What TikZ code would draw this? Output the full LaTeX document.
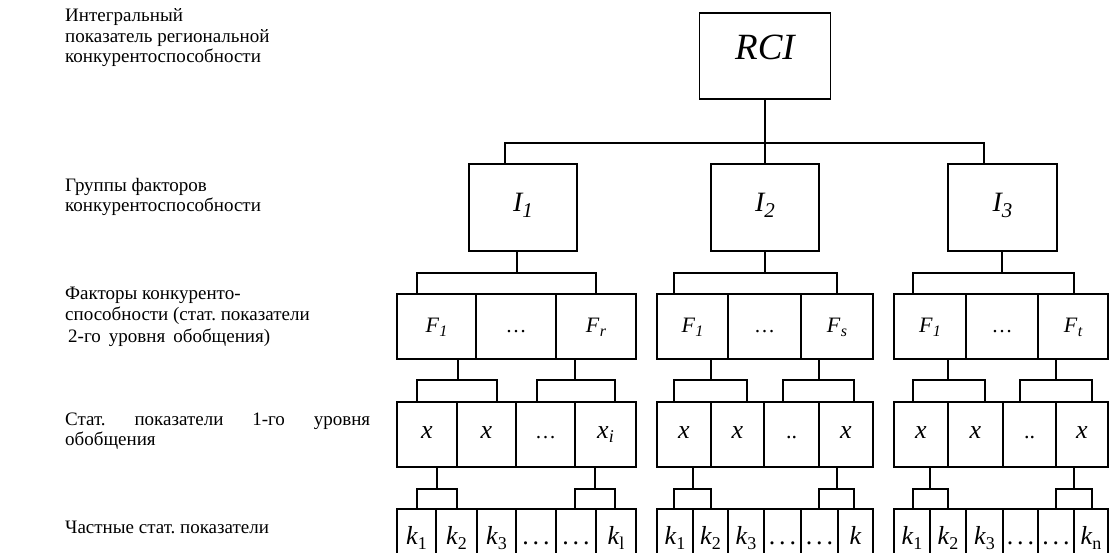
\documentclass[tikz,border=0pt]{standalone}
\usepackage{fontspec}
\setmainfont{Liberation Serif}
\frenchspacing
\newcommand\II[1]{\fontsize{28}{30}\selectfont\itshape I\raisebox{-6pt}{\fontsize{21}{21}\selectfont #1}}
\newcommand\FF[1]{\fontsize{22}{24}\selectfont\itshape F\kern0.5pt\raisebox{-4pt}{\fontsize{16}{16}\selectfont #1}}
\newcommand\XX[1]{\fontsize{26}{28}\selectfont\itshape x\raisebox{-4pt}{\fontsize{18}{18}\selectfont #1}}
\newcommand\KK[1]{\fontsize{26}{28}\selectfont\itshape k\raisebox{-5pt}{\fontsize{18}{18}\selectfont\upshape #1}}
\newcommand\dotsF{\fontsize{21}{22}\selectfont …}
\newcommand\dotsT{\fontsize{22}{22}\selectfont ..}
\newcommand\dotsK{\fontsize{26}{28}\selectfont .\kern4pt.\kern4pt.}
\newcommand\mybrk[8]{%
  \coordinate (#1t) at (#3,#8); \coordinate (#1l) at (#5,#8); \coordinate (#1r) at (#7,#8);
  \draw[conn] (#2.south -| #1t) -- (#1t);
  \draw[conn] (#4.north -| #1l) -- (#1l) -- (#1r) -- (#6.north -| #1r);}
\begin{document}
\begin{tikzpicture}[x=1pt,y=-1pt,
  box/.style={draw, line width=1.8pt, inner sep=0pt},
  fcell/.style={box, minimum height=65pt, text height=11pt, text depth=0pt},
  xcell/.style={box, minimum height=65pt, text height=7pt, text depth=0pt},
  kcell/.style={box, minimum height=51pt, text height=19pt, text depth=0pt},
  conn/.style={line width=1.5pt},
  lab/.style={anchor=base west, inner sep=0pt, font=\fontsize{19}{21}\selectfont}]
\useasboundingbox (0,0) rectangle (1109,552);

% left labels
\node[lab] (L1a) at (65,21) {Интегральный};
\node[lab] (L1b) at (65,42) {показатель региональной};
\node[lab] (L1c) at (65,62) {конкурентоспособности};
\node[lab] (L2a) at (65,191) {Группы факторов};
\node[lab] (L2b) at (65,211) {конкурентоспособности};
\node[lab] (L3a) at (65,299) {Факторы конкуренто-};
\node[lab] (L3b) at (65,320) {способности (стат. показатели};
\node[lab] (L3c) at (68,342) {\makebox[202pt][s]{2-го уровня обобщения)}};
\node[lab] (L4a) at (65,425) {\makebox[305pt][s]{Стат. показатели 1-го уровня}};
\node[lab] (L4b) at (65,445) {обобщения};
\node[lab] (L5a) at (65,533) {Частные стат. показатели};

% top levels
\node[box, minimum width=131pt, minimum height=86pt, text height=6pt, text depth=0pt] (RCI) at (765,56) {\fontsize{37}{40}\selectfont\itshape RCI};
\node[box, minimum width=108pt, minimum height=87pt, text height=7pt, text depth=0pt] (I1) at (523,207.5) {\II{1}};
\node[box, minimum width=108pt, minimum height=87pt, text height=7pt, text depth=0pt] (I2) at (765,207.5) {\II{2}};
\node[box, minimum width=109pt, minimum height=87pt, text height=7pt, text depth=0pt] (I3) at (1002.5,207.5) {\II{3}};

% F row
\foreach \a/\b/\t/\nm in {397/476/{\FF{1}}/f11, 476/556/{\dotsF}/f12, 556/636/{\FF{r}}/f13,
  657/728/{\FF{1}}/f21, 728/801/{\dotsF}/f22, 801/873/{\FF{s}}/f23,
  894/966/{\FF{1}}/f31, 966/1038/{\dotsF}/f32, 1038/1108/{\FF{t}}/f33}
{\pgfmathsetmacro\w{\b-\a}\pgfmathsetmacro\c{(\a+\b)/2}
 \node[fcell, minimum width=\w pt] (\nm) at (\c,326.5) {\t};}

% x row
\foreach \a/\b/\t/\nm in {397/457/{\XX{}}/x11, 457/516/{\XX{}}/x12, 516/575/{\dotsF}/x13, 575/636/{\XX{i}}/x14,
  657/711/{\XX{}}/x21, 711/764/{\XX{}}/x22, 764/819/{\dotsT}/x23, 819/873/{\XX{}}/x24,
  894/948/{\XX{}}/x31, 948/1003/{\XX{}}/x32, 1003/1056/{\dotsT}/x33, 1056/1108/{\XX{}}/x34}
{\pgfmathsetmacro\w{\b-\a}\pgfmathsetmacro\c{(\a+\b)/2}
 \node[xcell, minimum width=\w pt] (\nm) at (\c,434.5) {\t};}

% k row
\foreach \a/\b/\t/\nm in {397/436/{\KK{1}}/k11, 436/477/{\KK{2}}/k12, 477/516/{\KK{3}}/k13,
  516/556/{\dotsK}/k14, 556/596/{\dotsK}/k15, 596/636/{\KK{l}}/k16,
  657/693/{\KK{1}}/k21, 693/728/{\KK{2}}/k22, 728/764/{\KK{3}}/k23,
  764/801/{\dotsK}/k24, 801/838/{\dotsK}/k25, 838/873/{\KK{}}/k26,
  894/930/{\KK{1}}/k31, 930/966/{\KK{2}}/k32, 966/1003/{\KK{3}}/k33,
  1003/1038/{\dotsK}/k34, 1038/1074/{\dotsK}/k35, 1074/1108/{\KK{n}}/k36}
{\pgfmathsetmacro\w{\b-\a}\pgfmathsetmacro\c{(\a+\b)/2}
 \node[kcell, minimum width=\w pt] (\nm) at (\c,534.5) {\t};}

% top connectors
\coordinate (tbl) at (505,143); \coordinate (tbr) at (984,143);
\draw[conn] (RCI.south) -- (I2.north);
\draw[conn] (I1.north -| tbl) -- (tbl) -- (tbr) -- (I3.north -| tbr);

% F brackets
\mybrk{fa}{I1}{517}{f11}{417}{f13}{596}{273}
\mybrk{fb}{I2}{765}{f21}{674}{f23}{837}{273}
\mybrk{fc}{I3}{1002}{f31}{913}{f33}{1074}{273}

% x brackets
\mybrk{xa}{f11}{458}{x11}{417}{x12}{497}{380}
\mybrk{xb}{f13}{575}{x13}{537}{x14}{615}{380}
\mybrk{xc}{f21}{711}{x21}{674}{x22}{747}{380}
\mybrk{xd}{f23}{819}{x23}{783}{x24}{854}{380}
\mybrk{xe}{f31}{948}{x31}{913}{x32}{985}{380}
\mybrk{xf}{f33}{1056}{x33}{1020}{x34}{1092}{380}

% k brackets
\mybrk{ka}{x11}{437}{k11}{417}{k12}{457}{489}
\mybrk{kb}{x14}{595}{k15}{575}{k16}{615}{489}
\mybrk{kc}{x21}{693}{k21}{674}{k22}{711}{489}
\mybrk{kd}{x24}{837}{k25}{819}{k26}{854}{489}
\mybrk{ke}{x31}{930}{k31}{913}{k32}{948}{489}
\mybrk{kf}{x34}{1074}{k35}{1056}{k36}{1092}{489}
\end{tikzpicture}
\end{document}
